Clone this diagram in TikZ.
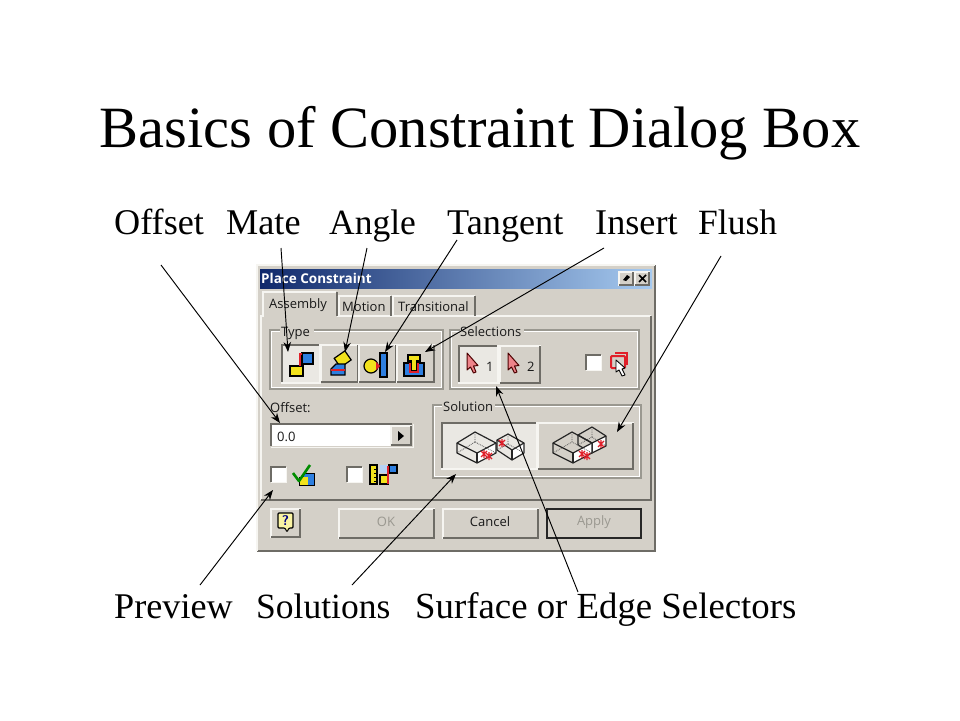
\documentclass[tikz,border=0pt]{standalone}
\usepackage{fontspec}
\setmainfont{Liberation Serif}
\newfontfamily\uifont{Open Sans}
\usetikzlibrary{arrows.meta,calc}
\definecolor{dlg}{HTML}{D4D0C8}
\definecolor{dlgdk}{HTML}{6E6C66}
\definecolor{dlgmid}{HTML}{9A9890}
\definecolor{dlglt}{HTML}{F6F5F1}
\definecolor{press}{HTML}{EAE8E3}
\definecolor{tbL}{HTML}{10296B}
\definecolor{tbR}{HTML}{A6CAF0}
\definecolor{iblue}{HTML}{2E7FE0}
\definecolor{iyel}{HTML}{F2E21C}
\definecolor{ired}{HTML}{E0202A}
\tikzset{
  titletxt/.style={font=\fontsize{58.5}{60}\selectfont,anchor=base,inner sep=0pt},
  lbl/.style={font=\fontsize{36.2}{37}\selectfont,anchor=base west,inner sep=0pt},
  lblnarrow/.style={lbl,font=\fontsize{35.5}{37}\selectfont},
  lblwide/.style={lbl,font=\fontsize{36.8}{37}\selectfont},
  ui/.style={font=\uifont\fontsize{13}{14}\selectfont,anchor=base west,inner sep=0pt,text=black!90},
  callout/.style={draw=black,line width=0.95pt,-{Stealth[length=10pt,width=7.5pt]}},
  boxline/.style={line width=1.3pt,line cap=rect},
  cube/.style={draw=black!85,line width=1.2pt,line join=round},
  hid/.style={draw=black!65,line width=.8pt,densely dotted},
}
\newcommand{\raisedbtn}[5]{%
  \fill[dlg] (#2,#3) rectangle (#4,#5);
  \draw[dlglt,boxline] (#2,#5) -- (#2,#3) -- (#4,#3);
  \draw[dlgdk,line width=2pt] (#2,#5) -- (#4,#5) -- (#4,#3);
  \coordinate (#1) at ($(#2,#3)!.5!(#4,#5)$);}
\newcommand{\pressedbtn}[5]{%
  \fill[press] (#2,#3) rectangle (#4,#5);
  \draw[dlgdk,line width=2pt] (#2,#5) -- (#2,#3) -- (#4,#3);
  \draw[dlglt,boxline] (#2,#5) -- (#4,#5) -- (#4,#3);
  \coordinate (#1) at ($(#2,#3)!.5!(#4,#5)$);}
\newcommand{\groupbox}[6]{%
  \draw[dlgmid,line width=1.2pt] (#5,#2) -- (#1,#2) -- (#1,#4) -- (#3,#4) -- (#3,#2) -- (#6,#2);
  \draw[white,line width=.9pt] (#5,#2+1.3) -- (#1+1.3,#2+1.3) -- (#1+1.3,#4-1.3) -- (#3-1.3,#4-1.3) -- (#3-1.3,#2+1.3) -- (#6,#2+1.3);}
\newcommand{\chkbox}[2]{%
  \fill[white] (#1,#2) rectangle +(15,15);
  \draw[dlgdk,line width=1.6pt] (#1,#2+15) -- (#1,#2) -- (#1+15,#2);
  \draw[dlglt,line width=1pt] (#1,#2+15.5) -- (#1+15.5,#2+15.5) -- (#1+15.5,#2);}
\newcommand{\ptr}[2]{%
  \draw[draw=black!70!red,fill=ired!55!white,line width=1pt,line join=round,shift={(#1,#2)}]
    (0,0) -- (0,17) -- (3.5,14) -- (6.5,20) -- (9,19) -- (6.5,13) -- (11,12.5) -- cycle;}
% box from top diamond points: left, back, right, front (x,y pairs), height
\newcommand{\isobox}[9]{%
  \coordinate (bL) at (#1,#2);\coordinate (bB) at (#3,#4);\coordinate (bR) at (#5,#6);\coordinate (bF) at (#7,#8);
  \coordinate (dn) at (0,#9);
  \fill[white] (bF) -- (bR) -- ($(bR)+(dn)$) -- ($(bF)+(dn)$) -- cycle;
  \draw[hid] (bB) -- ($(bB)+(dn)$) (bL) ++(dn) -- ($(bB)+(dn)$) -- ($(bR)+(dn)$);
  \draw[cube] (bL) -- (bB) -- (bR) -- (bF) -- cycle;
  \draw[cube] (bL) -- ($(bL)+(dn)$) -- ($(bF)+(dn)$) -- ($(bR)+(dn)$) -- (bR);
  \draw[cube] (bF) -- ($(bF)+(dn)$);}
\newcommand{\redx}[2]{\draw[ired,line width=1.2pt] (#1-3,#2-3) -- (#1+3,#2+3) (#1-3,#2+3) -- (#1+3,#2-3) (#1,#2-4) -- (#1,#2+4);}
\begin{document}
\begin{tikzpicture}[x=1pt,y=-1pt]
\useasboundingbox (0,0) rectangle (960,720);
\fill[white] (0,0) rectangle (960,720);

\node[titletxt] (title) at (480,147) {Basics of Constraint Dialog Box};
\node[lbl] (lOffset) at (114,234) {Offset};
\node[lbl] (lMate) at (226,234) {Mate};
\node[lblnarrow] (lAngle) at (329,234) {Angle};
\node[lbl] (lTangent) at (447,234) {Tangent};
\node[lbl] (lInsert) at (595,234) {Insert};
\node[lblnarrow] (lFlush) at (698,234) {Flush};
\node[lbl] (lPreview) at (114,618) {Preview};
\node[lblnarrow] (lSolutions) at (256,618) {Solutions};
\node[lblwide] (lSelectors) at (415,618) {Surface or Edge Selectors};

% window
\fill[dlg] (257,265) rectangle (655,551);
\draw[dlgdk,line width=2pt] (257,551) -- (655,551) -- (655,265);
\draw[dlglt,line width=1.5pt] (257,551) -- (257,265) -- (655,265);
\shade[left color=tbL,right color=tbR] (260,269) rectangle (652,288);
\node[font=\uifont\bfseries\fontsize{13.5}{14}\selectfont,text=white,anchor=base west,inner sep=0pt] (wintitle) at (261,283) {Place Constraint};
\raisedbtn{pin}{619}{272}{633}{285}
\raisedbtn{close}{635}{272}{649}{285}
\fill[black] (623,280) -- (627,275) -- (630,277) -- (626,281) -- cycle;
\draw[black,line width=1.6pt] (639,275) -- (646,282) (646,275) -- (639,282);

% tab panel
\draw[dlglt,line width=1.3pt] (261,500) -- (261,316) -- (651,316);
\draw[dlgdk,line width=1.8pt] (261,500) -- (651,500) -- (651,316);
\fill[dlg] (263,292) rectangle (337,318);
\draw[dlglt,line width=1.3pt] (263,317) -- (263,292) -- (336,292);
\draw[dlgdk,line width=1.3pt] (337,292) -- (337,316);
\draw[dlglt,line width=1.3pt] (339,316) -- (339,296) -- (391,296);
\draw[dlgdk,line width=1.3pt] (391,296) -- (391,316);
\draw[dlglt,line width=1.3pt] (393,316) -- (393,296) -- (475,296);
\draw[dlgdk,line width=1.3pt] (475,296) -- (475,316);
\node[ui] (tabA) at (269,308) {Assembly};
\node[ui] (tabM) at (342,311) {Motion};
\node[ui] (tabT) at (398,311) {Transitional};

% type group
\groupbox{270}{330}{443}{389}{280}{314}
\node[ui] (gType) at (281,336) {Type};
\pressedbtn{bMate}{282}{345}{320}{383}
\raisedbtn{bAngle}{321}{345}{358}{382}
\raisedbtn{bTangent}{359}{345}{396}{382}
\raisedbtn{bInsert}{397}{345}{434}{382}
% mate icon
\fill[iyel,draw=black,line width=1.2pt] (290,366) rectangle (303,376);
\fill[iblue,draw=black,line width=1.2pt] (302,353) rectangle (313,364);
\draw[ired,line width=1.5pt] (300,366) -- (300,354) -- (302,354);
% angle icon
\fill[iyel,draw=black,line width=1.2pt,rotate around={35:(342,359)}] (336,354) rectangle (349,365);
\fill[iblue,draw=black,line width=1.2pt] (331,369) -- (336,364) -- (345,364) -- (345,375) -- (331,375) -- cycle;
\draw[ired,line width=1.3pt] (331,370) -- (345,370);
% tangent icon
\fill[iyel,draw=black,line width=1.2pt] (371,366) circle (7);
\fill[iblue,draw=black,line width=1.2pt] (380,353) rectangle (387,377);
\fill[ired] (376,362) -- (380,366) -- (376,370) -- cycle;
% insert icon
\fill[iblue,draw=black,line width=1.2pt] (404,363) rectangle (424,376);
\fill[iyel,draw=black,line width=1.2pt] (408,355) -- (420,355) -- (420,361) -- (417,361) -- (417,371) -- (411,371) -- (411,361) -- (408,361) -- cycle;
\draw[ired,line width=1.3pt] (410,363) -- (410,372) -- (418,372) -- (418,363);

% selections group
\groupbox{450}{330}{639}{389}{460}{524}
\node[ui] (gSel) at (460,336) {Selections};
\pressedbtn{bSel1}{459}{346}{498}{383}
\raisedbtn{bSel2}{500}{346}{540}{383}
\ptr{467}{353}
\ptr{508}{353}
\node[ui,font=\uifont\fontsize{13}{14}\selectfont] (n1) at (486,371) {1};
\node[ui,font=\uifont\fontsize{13}{14}\selectfont] (n2) at (527,371) {2};
\chkbox{586}{355}
\draw[ired,line width=2pt,rounded corners=1pt] (611,356) rectangle (625,368);
\draw[ired,line width=1.3pt] (615,353) -- (627,353) -- (627,365);
\draw[fill=white,draw=black,line width=.9pt,line join=round] (616,360) -- (616,372) -- (619,370) -- (622,376) -- (625,375) -- (622,369) -- (625,368) -- cycle;

% offset
\node[ui] (lblOff) at (270,412) {Offset:};
\fill[white] (271,424) rectangle (412,446);
\draw[dlgdk,line width=1.6pt] (271,446) -- (271,424) -- (412,424);
\draw[dlglt,line width=1pt] (271,447) -- (413,447) -- (413,424);
\raisedbtn{spin}{391}{426}{411}{445}
\fill[black] (398,431) -- (404,436) -- (398,441) -- cycle;
\node[ui] (offVal) at (277,441) {0.0};
% preview + ruler checks
\chkbox{271}{467}
\chkbox{347}{467}
\fill[iblue,draw=black,line width=1pt] (303,473) rectangle (314,485);
\fill[iyel] (299,477) rectangle (308,485);
\draw[black,line width=1pt] (299,477) -- (299,485) -- (314,485);
\draw[green!55!black,line width=2.6pt,line join=round] (293,473) -- (299,481) -- (310,465);
\fill[iyel,draw=black,line width=1.2pt] (370,465) rectangle (377,484);
\draw[black,line width=.8pt] (374,469) -- (377,469) (374,473) -- (377,473) (374,477) -- (377,477) (374,481) -- (377,481);
\fill[iyel,draw=black,line width=1.2pt] (380,475) rectangle (388,484);
\fill[iblue!35!white] (380,465) rectangle (388,473);
\fill[iblue,draw=black,line width=1.2pt] (389,465) rectangle (397,473);
\draw[ired,line width=1.3pt] (388,466) -- (388,484);

% solution group
\groupbox{433}{405}{641}{478}{442}{495}
\node[ui] (gSol) at (443,411) {Solution};
\pressedbtn{bSol1}{442}{423}{537}{469}
\raisedbtn{bSol2}{538}{423}{633}{469}
\isobox{457}{443}{475}{432}{496}{443}{477}{453}{10}
\isobox{497}{440}{508}{434}{524}{443}{512}{450}{10}
\redx{484}{454}\redx{489}{456}\redx{502}{443}
\isobox{578}{435}{592}{427}{606}{436}{592}{443}{10}
\isobox{553}{443}{572}{432}{592}{443}{573}{453}{10}
\redx{582}{454}\redx{587}{456}\redx{601}{444}

% bottom row
\raisedbtn{bHelp}{271}{509}{300}{537}
\fill[iyel!40!white,draw=black,line width=1.1pt,rounded corners=1pt] (278,513) -- (293,513) -- (293,528) -- (289,528) -- (287,532) -- (285,528) -- (278,528) -- cycle;
\node[font=\fontsize{14}{14}\selectfont\bfseries\sffamily,text=blue!50!black,inner sep=0pt] (qm) at (285.5,520.5) {?};
\raisedbtn{bOK}{339}{509}{434}{538}
\node[font=\uifont\fontsize{13}{14}\selectfont,text=dlgmid,inner sep=0pt] (tOK) at (386,522) {OK};
\raisedbtn{bCancel}{443}{509}{538}{538}
\node[font=\uifont\fontsize{13}{14}\selectfont,text=black!90,inner sep=0pt] (tCancel) at (490,522) {Cancel};
\fill[dlg] (547,509) rectangle (641,538);
\draw[black!85,line width=1.6pt] (547,509) rectangle (641,538);
\node[font=\uifont\fontsize{13}{14}\selectfont,text=dlgmid,inner sep=0pt] (tApply) at (594,522) {Apply};

% connectors
\coordinate (tMate) at (281,248);   \coordinate (hMate) at (288,352);
\coordinate (tAngle) at (367,248);  \coordinate (hAngle) at (345,352);
\coordinate (tTangent) at (457,240);\coordinate (hTangent) at (385,352);
\coordinate (tInsert) at (604,248); \coordinate (hInsert) at (425,352);
\coordinate (tOffset) at (161,265); \coordinate (hOffset) at (280,423);
\coordinate (tPreview) at (200,585);\coordinate (hPreview) at (273,490);
\coordinate (tSol) at (352,585);    \coordinate (hSol) at (456,474);
\coordinate (tSel) at (578,592);    \coordinate (hSel) at (496,386);
\coordinate (tFlush) at (721,256);  \coordinate (hFlush) at (617,432);
\draw[callout] (tMate) -- (hMate);
\draw[callout] (tAngle) -- (hAngle);
\draw[callout] (tTangent) -- (hTangent);
\draw[callout] (tInsert) -- (hInsert);
\draw[callout] (tOffset) -- (hOffset);
\draw[callout] (tPreview) -- (hPreview);
\draw[callout] (tSol) -- (hSol);
\draw[callout] (tSel) -- (hSel);
\draw[callout] (tFlush) -- (hFlush);
\end{tikzpicture}
\end{document}
